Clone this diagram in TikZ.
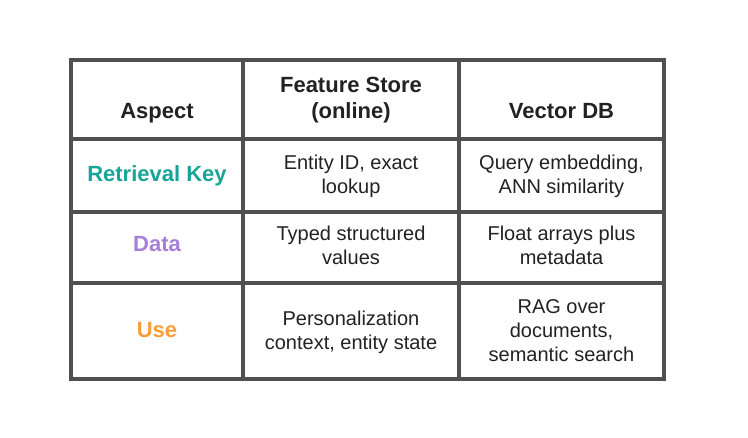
\documentclass[tikz,border=0pt]{standalone}
\usepackage{fontspec}
\setmainfont{Liberation Sans}
\definecolor{gridc}{HTML}{505050}
\definecolor{txt}{HTML}{222222}
\definecolor{teal}{HTML}{16A596}
\definecolor{purp}{HTML}{A67FD8}
\definecolor{orng}{HTML}{F79E38}
\tikzset{
  gridline/.style={draw=gridc, line width=3.4pt},
  head/.style={anchor=base, inner sep=0pt, text=txt, font=\fontsize{22}{26}\selectfont\bfseries},
  body/.style={anchor=base, inner sep=0pt, text=txt, font=\fontsize{20}{24}\selectfont},
  aspect/.style={anchor=base, inner sep=0pt, font=\fontsize{22}{26}\selectfont\bfseries},
}
\begin{document}
\begin{tikzpicture}[x=1pt,y=-1pt]
\useasboundingbox (0,0) rectangle (748,438);
\fill[white] (0,0) rectangle (748,438);
% grid
\draw[gridline] (71,139) -- (664,139);
\draw[gridline] (71,212) -- (664,212);
\draw[gridline] (71,283) -- (664,283);
\draw[gridline] (243,60) -- (243,379);
\draw[gridline] (459,60) -- (459,379);
\draw[gridline] (71,60) rectangle (664,379);
% header
\node[head] (hA) at (157,119) {Aspect};
\node[head] (hF1) at (351,93) {Feature Store};
\node[head] (hF2) at (351,119) {(online)};
\node[head] (hV) at (561.5,119) {Vector DB};
% row 1
\node[aspect, text=teal] (a1) at (157,181.5) {Retrieval Key};
\node[body] (f1a) at (351,169.5) {Entity ID, exact};
\node[body] (f1b) at (351,193.5) {lookup};
\node[body] (v1a) at (561.5,169.5) {Query embedding,};
\node[body] (v1b) at (561.5,193.5) {ANN similarity};
% row 2
\node[aspect, text=purp] (a2) at (157,252) {Data};
\node[body] (f2a) at (351,241) {Typed structured};
\node[body] (f2b) at (351,265) {values};
\node[body] (v2a) at (561.5,241) {Float arrays plus};
\node[body] (v2b) at (561.5,265) {metadata};
% row 3
\node[aspect, text=orng] (a3) at (157,337.5) {Use};
\node[body] (f3a) at (351,325.5) {Personalization};
\node[body] (f3b) at (351,349.5) {context, entity state};
\node[body] (v3a) at (561.5,314) {RAG over};
\node[body] (v3b) at (561.5,338) {documents,};
\node[body] (v3c) at (561.5,362) {semantic search};
\end{tikzpicture}
\end{document}
